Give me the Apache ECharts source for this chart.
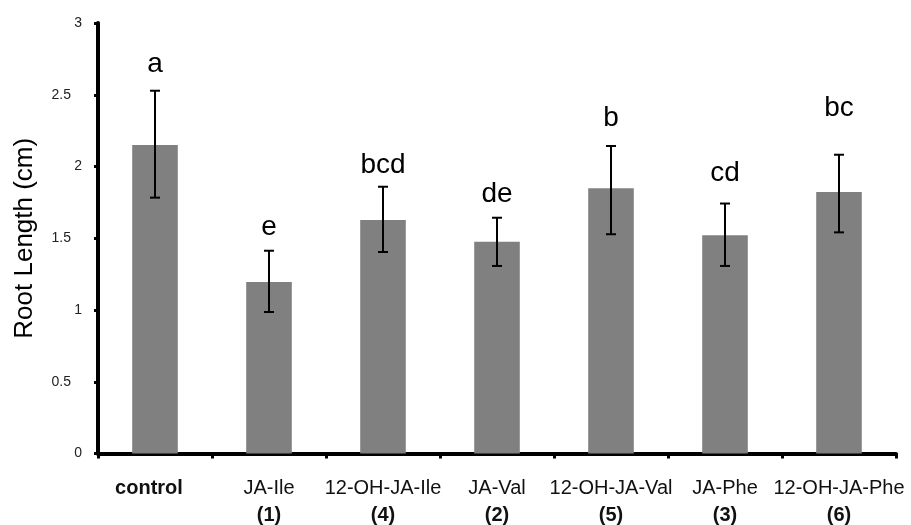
<!DOCTYPE html>
<html><head><meta charset="utf-8">
<script src="https://cdn.jsdelivr.net/npm/echarts@6/dist/echarts.min.js"></script>
<style>html,body{margin:0;padding:0;background:#fff}#c{width:911px;height:525px}</style>
</head><body><div id="c"></div>
<script>
const categories = ['control', 'JA-Ile', '12-OH-JA-Ile', 'JA-Val', '12-OH-JA-Val', 'JA-Phe', '12-OH-JA-Phe'];
const compoundNumbers = ['', '(1)', '(4)', '(2)', '(5)', '(3)', '(6)'];
const rootLength = [2.15, 1.195, 1.627, 1.476, 1.848, 1.521, 1.822];
const errLow = [1.783, 0.986, 1.404, 1.307, 1.528, 1.307, 1.541];
const errHigh = [2.528, 1.413, 1.859, 1.643, 2.143, 1.742, 2.082];
const letters = ['a', 'e', 'bcd', 'de', 'b', 'cd', 'bc'];
const letterY = [2.71, 1.575, 2.01, 1.805, 2.335, 1.95, 2.405];
const yMin = 0, yMax = 3, yStep = 0.5;

const FONT = "'Liberation Sans', Arial, Helvetica, sans-serif";
const chart = echarts.init(document.getElementById('c'), null, {renderer: 'canvas'});

chart.setOption({
  animation: false,
  backgroundColor: '#fff',
  grid: {left: 98, right: 15, top: 23, bottom: 71.5, containLabel: false},
  xAxis: {
    type: 'category',
    data: categories,
    axisLine: {lineStyle: {color: '#000', width: 4}},
    axisTick: {show: true, alignWithLabel: false, length: 5, lineStyle: {color: '#000', width: 3}},
    axisLabel: {
      interval: 0,
      margin: 21,
      formatter: function (v, i) {
        const n = compoundNumbers[i];
        if (!n) return '{c|' + v + '}';
        return '{n|' + v + '}\n{b|' + n + '}';
      },
      rich: {
        n: {fontSize: 20, fontFamily: FONT, color: '#111', lineHeight: 27},
        b: {fontSize: 20, fontFamily: FONT, color: '#111', fontWeight: 'bold', lineHeight: 27},
        c: {fontSize: 20, fontFamily: FONT, color: '#111', fontWeight: 'bold', lineHeight: 27, padding: [0, 12, 0, 0]}
      }
    },
    splitLine: {show: false}
  },
  yAxis: {
    type: 'value',
    min: yMin, max: yMax, interval: yStep,
    name: 'Root Length (cm)',
    nameLocation: 'middle',
    nameGap: 60,
    nameTextStyle: {fontSize: 26, fontFamily: FONT, color: '#000'},
    axisLine: {show: true, lineStyle: {color: '#000', width: 4}},
    axisTick: {show: true, length: 4, lineStyle: {color: '#000', width: 3}},
    splitLine: {show: false},
    axisLabel: {
      margin: 16,
      formatter: function (v) {
        return Number.isInteger(v) ? '{i|' + v + '}' : '{h|' + v + '}';
      },
      rich: {
        i: {fontSize: 14, fontFamily: FONT, color: '#222'},
        h: {fontSize: 14, fontFamily: FONT, color: '#222', padding: [0, 11, 0, 0]}
      }
    }
  },
  series: [
    {
      type: 'bar',
      data: rootLength,
      barWidth: '40%',
      itemStyle: {color: '#808080'},
      z: 2
    },
    {
      type: 'custom',
      z: 5,
      clip: false,
      data: categories.map((c, i) => [i, errLow[i], errHigh[i], letterY[i]]),
      encode: {x: 0, y: [1, 2]},
      renderItem: function (params, api) {
        const i = api.value(0);
        const lo = api.coord([i, api.value(1)]);
        const hi = api.coord([i, api.value(2)]);
        const lt = api.coord([i, api.value(3)]);
        const hw = 5;
        const st = {stroke: '#000', lineWidth: 2};
        return {
          type: 'group',
          children: [
            {type: 'line', shape: {x1: hi[0], y1: hi[1], x2: lo[0], y2: lo[1]}, style: st},
            {type: 'line', shape: {x1: hi[0] - hw, y1: hi[1], x2: hi[0] + hw, y2: hi[1]}, style: st},
            {type: 'line', shape: {x1: lo[0] - hw, y1: lo[1], x2: lo[0] + hw, y2: lo[1]}, style: st},
            {type: 'text', x: lt[0], y: lt[1], style: {text: letters[params.dataIndex], fontSize: 28, fontFamily: FONT, fill: '#000', align: 'center', verticalAlign: 'middle'}}
          ]
        };
      }
    }
  ]
});
</script>
</body></html>
